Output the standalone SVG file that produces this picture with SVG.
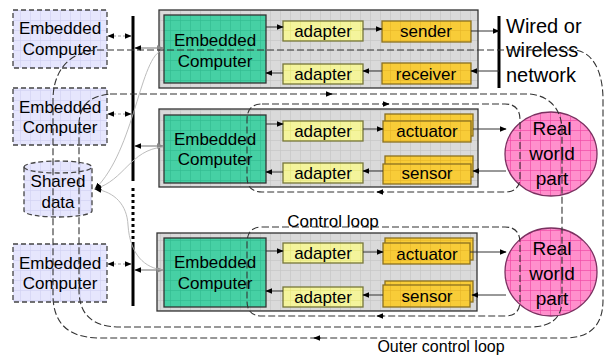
<svg xmlns="http://www.w3.org/2000/svg" width="605" height="360" viewBox="0 0 605 360">
<defs>
<pattern id="pGray" patternUnits="userSpaceOnUse" width="10" height="10"><rect width="10" height="10" fill="#dadada"/><path d="M0 0.5H10M0.5 0V10" stroke="#c6c6c6" stroke-width="0.7"/></pattern>
<pattern id="pGreen" patternUnits="userSpaceOnUse" width="10" height="10"><rect width="10" height="10" fill="#46d0a4"/><path d="M0 0.5H10M0.5 0V10" stroke="#34bc90" stroke-width="0.7"/></pattern>
<pattern id="pLav" patternUnits="userSpaceOnUse" width="10" height="10"><rect width="10" height="10" fill="#e6e6fd"/><path d="M0 0.5H10M0.5 0V10" stroke="#d2d2f4" stroke-width="0.7"/></pattern>
<pattern id="pYel" patternUnits="userSpaceOnUse" width="10" height="10"><rect width="10" height="10" fill="#f4f49c"/><path d="M0 0.5H10M0.5 0V10" stroke="#e6e67e" stroke-width="0.7"/></pattern>
<pattern id="pGold" patternUnits="userSpaceOnUse" width="10" height="10"><rect width="10" height="10" fill="#f8cc38"/><path d="M0 0.5H10M0.5 0V10" stroke="#e8b82a" stroke-width="0.7"/></pattern>
<pattern id="pPink" patternUnits="userSpaceOnUse" width="10" height="10"><rect width="10" height="10" fill="#ff8fcc"/><path d="M0 0.5H10M0.5 0V10" stroke="#f04ca6" stroke-width="0.7"/></pattern>
<marker id="ah" viewBox="0 0 10 10" refX="9" refY="5" markerWidth="7" markerHeight="7" orient="auto-start-reverse" markerUnits="userSpaceOnUse"><path d="M0 1L10 5L0 9z" fill="#000"/></marker>
<marker id="ag" viewBox="0 0 10 10" refX="9" refY="5" markerWidth="7" markerHeight="7" orient="auto-start-reverse" markerUnits="userSpaceOnUse"><path d="M0 1L10 5L0 9z" fill="#888"/></marker>
</defs>
<style>
text{font-family:"Liberation Sans",Arial,sans-serif;font-size:17px;fill:#000;text-anchor:middle}
.big{font-size:20px;text-anchor:start}
.rw{font-size:19px}
.gray{fill:url(#pGray);stroke:#333;stroke-width:1.3}
.green{fill:url(#pGreen);stroke:#333;stroke-width:1.3}
.lav{fill:url(#pLav);stroke:#444;stroke-width:1.3;stroke-dasharray:5 3}
.yel{fill:url(#pYel);stroke:#77773a;stroke-width:1.3}
.gold{fill:url(#pGold);stroke:#8a7020;stroke-width:1.3}
.pink{fill:url(#pPink);stroke:#7a3060;stroke-width:1.3}
.bus{stroke:#000;stroke-width:3;fill:none}
.ln{stroke:#333;stroke-width:1;fill:none}
.gl{stroke:#888;stroke-width:1.2;fill:none}
.thin{stroke:#b4b4b4;stroke-width:0.9;fill:none}
.dl{stroke:#999;stroke-width:1;fill:none;stroke-dasharray:3 2}
.loop{stroke:#333;stroke-width:1.1;fill:none;stroke-dasharray:7 3}
</style>

<g id="left-computer-1"><rect class="lav" x="13" y="10" width="94" height="58"/><text x="60" y="34">Embedded</text><text x="60" y="55">Computer</text></g>
<g id="left-computer-2"><rect class="lav" x="13" y="88" width="94" height="57"/><text x="60" y="113">Embedded</text><text x="60" y="133">Computer</text></g>
<g id="left-computer-3"><rect class="lav" x="13" y="244" width="94" height="58"/><text x="60" y="269">Embedded</text><text x="60" y="289">Computer</text></g>
<g id="shared-data"><path class="lav" d="M24 167A34 6 0 0 1 92 167V211A34 6 0 0 1 24 211Z"/><path d="M24 167A34 6 0 0 0 92 167" fill="none" stroke="#444" stroke-width="1.3" stroke-dasharray="5 3"/><text x="58" y="187">Shared</text><text x="58" y="208">data</text></g>

<g id="bus"><path class="bus" d="M133 16V181M133 243V306"/><path class="bus" d="M133 188V243" stroke-dasharray="3 3"/></g>
<g id="network"><path class="bus" d="M499 16V88"/><text class="big" x="506" y="33">Wired or</text><text class="big" x="506" y="57">wireless</text><text class="big" x="506" y="82">network</text></g>

<g id="node-1"><rect class="gray" x="159" y="10" width="319" height="78"/>
<rect class="green" x="164" y="15" width="102" height="68"/><text x="215" y="46">Embedded</text><text x="215" y="67">Computer</text>
<rect class="yel" x="283" y="21" width="80" height="20"/><text x="323" y="37">adapter</text>
<rect class="yel" x="283" y="64" width="80" height="20"/><text x="323" y="80">adapter</text>
<rect class="gold" x="382" y="21" width="89" height="21"/><text x="426" y="37">sender</text>
<rect class="gold" x="382" y="63" width="89" height="21"/><text x="426" y="80">receiver</text></g>

<g id="node-2"><rect class="gray" x="159" y="109" width="319" height="78"/>
<rect class="green" x="164" y="115" width="102" height="68"/><text x="215" y="145">Embedded</text><text x="215" y="165">Computer</text>
<rect class="yel" x="283" y="121" width="80" height="20"/><text x="323" y="137">adapter</text>
<rect class="yel" x="283" y="163" width="80" height="20"/><text x="323" y="179">adapter</text>
<rect class="gold" x="385" y="114" width="88" height="22"/><rect class="gold" x="383" y="121" width="88" height="21"/><text x="427" y="137">actuator</text>
<rect class="gold" x="385" y="156" width="88" height="21"/><rect class="gold" x="383" y="164" width="88" height="20"/><text x="427" y="179">sensor</text></g>

<g id="node-3"><rect class="gray" x="157" y="233" width="320" height="78"/>
<rect class="green" x="164" y="238" width="102" height="69"/><text x="215" y="268">Embedded</text><text x="215" y="289">Computer</text>
<rect class="yel" x="283" y="243" width="80" height="20"/><text x="323" y="259">adapter</text>
<rect class="yel" x="283" y="287" width="80" height="20"/><text x="323" y="303">adapter</text>
<rect class="gold" x="385" y="238" width="88" height="22"/><rect class="gold" x="383" y="243" width="87" height="21"/><text x="427" y="260">actuator</text>
<rect class="gold" x="385" y="281" width="88" height="21"/><rect class="gold" x="383" y="285" width="87" height="22"/><text x="427" y="302">sensor</text></g>

<g id="real-world-1"><ellipse class="pink" cx="551" cy="154" rx="46" ry="42"/><text class="rw" x="552" y="135">Real</text><text class="rw" x="552" y="160">world</text><text class="rw" x="552" y="185">part</text></g>
<g id="real-world-2"><ellipse class="pink" cx="551" cy="272" rx="46" ry="44"/><text class="rw" x="552" y="255">Real</text><text class="rw" x="552" y="280">world</text><text class="rw" x="552" y="305">part</text></g>

<g id="connectors">
<path class="dl" d="M108 36H131" marker-start="url(#ah)" marker-end="url(#ah)"/>
<path class="dl" d="M108 114H131" marker-start="url(#ah)" marker-end="url(#ah)"/>
<path class="dl" d="M108 264H131" marker-start="url(#ah)" marker-end="url(#ah)"/>
<path class="gl" d="M135 48H163" marker-start="url(#ah)" marker-end="url(#ag)"/>
<path class="gl" d="M135 146H163" marker-start="url(#ah)" marker-end="url(#ag)"/>
<path class="gl" d="M135 270H163" marker-start="url(#ah)" marker-end="url(#ag)"/>
<path class="thin" d="M163 50C140 55 135 150 95 189" marker-end="url(#ah)"/>
<path class="thin" d="M163 147C130 150 125 180 95 189" marker-end="url(#ah)"/>
<path class="thin" d="M163 270C145 268 130 255 128 225C127 205 115 192 95 189" marker-end="url(#ah)"/>
<path class="ln" d="M266 27H283" marker-end="url(#ah)"/>
<path class="ln" d="M363 29H382" marker-end="url(#ah)"/>
<path class="ln" d="M471 31H499" marker-end="url(#ah)"/>
<path class="ln" d="M283 73H266" marker-end="url(#ah)"/>
<path class="ln" d="M382 71H363" marker-end="url(#ah)"/>
<path class="ln" d="M499 71H471" marker-end="url(#ah)"/>
<path class="ln" d="M266 124H283" marker-end="url(#ah)"/>
<path class="ln" d="M363 129H383" marker-end="url(#ah)"/>
<path class="ln" d="M473 129H506" marker-end="url(#ah)"/>
<path class="ln" d="M283 172H266" marker-end="url(#ah)"/>
<path class="ln" d="M383 171H363" marker-end="url(#ah)"/>
<path class="ln" d="M506 171H473" marker-end="url(#ah)"/>
<path class="ln" d="M266 251H283" marker-end="url(#ah)"/>
<path class="ln" d="M363 252H383" marker-end="url(#ah)"/>
<path class="ln" d="M470 252H506" marker-end="url(#ah)"/>
<path class="ln" d="M283 291H266" marker-end="url(#ah)"/>
<path class="ln" d="M383 295H363" marker-end="url(#ah)"/>
<path class="ln" d="M506 295H472" marker-end="url(#ah)"/>
<path class="loop" d="M262 104H505Q520 104 520 120V177Q520 192 505 192H262Q247 192 247 177V120Q247 104 262 104Z"/>
<path class="loop" d="M262 227H505Q520 227 520 243V301Q520 316 505 316H262Q247 316 247 301V243Q247 227 262 227Z"/>
<path class="loop" d="M97 50H575C592 52 603 70 603 100V300Q603 338 565 338H100Q53 338 53 295V100C53 72 68 52 97 50Z"/>
<path class="loop" d="M110 94H530C550 96 562 110 562 130V300Q562 327 530 327H120Q79 327 79 290V125C79 105 90 96 110 94Z"/>
<path class="ln" d="M382 104H389" marker-end="url(#ah)"/>
<path class="ln" d="M326 94H332" marker-end="url(#ah)"/>
<path class="ln" d="M384 192H377" marker-end="url(#ah)"/>
<path class="ln" d="M384 316H377" marker-end="url(#ah)"/>
<path class="ln" d="M321 338H314" marker-end="url(#ah)"/>
<text x="333" y="227">Control loop</text>
<text x="441" y="352" style="font-size:16px">Outer control loop</text>
</g>
</svg>
